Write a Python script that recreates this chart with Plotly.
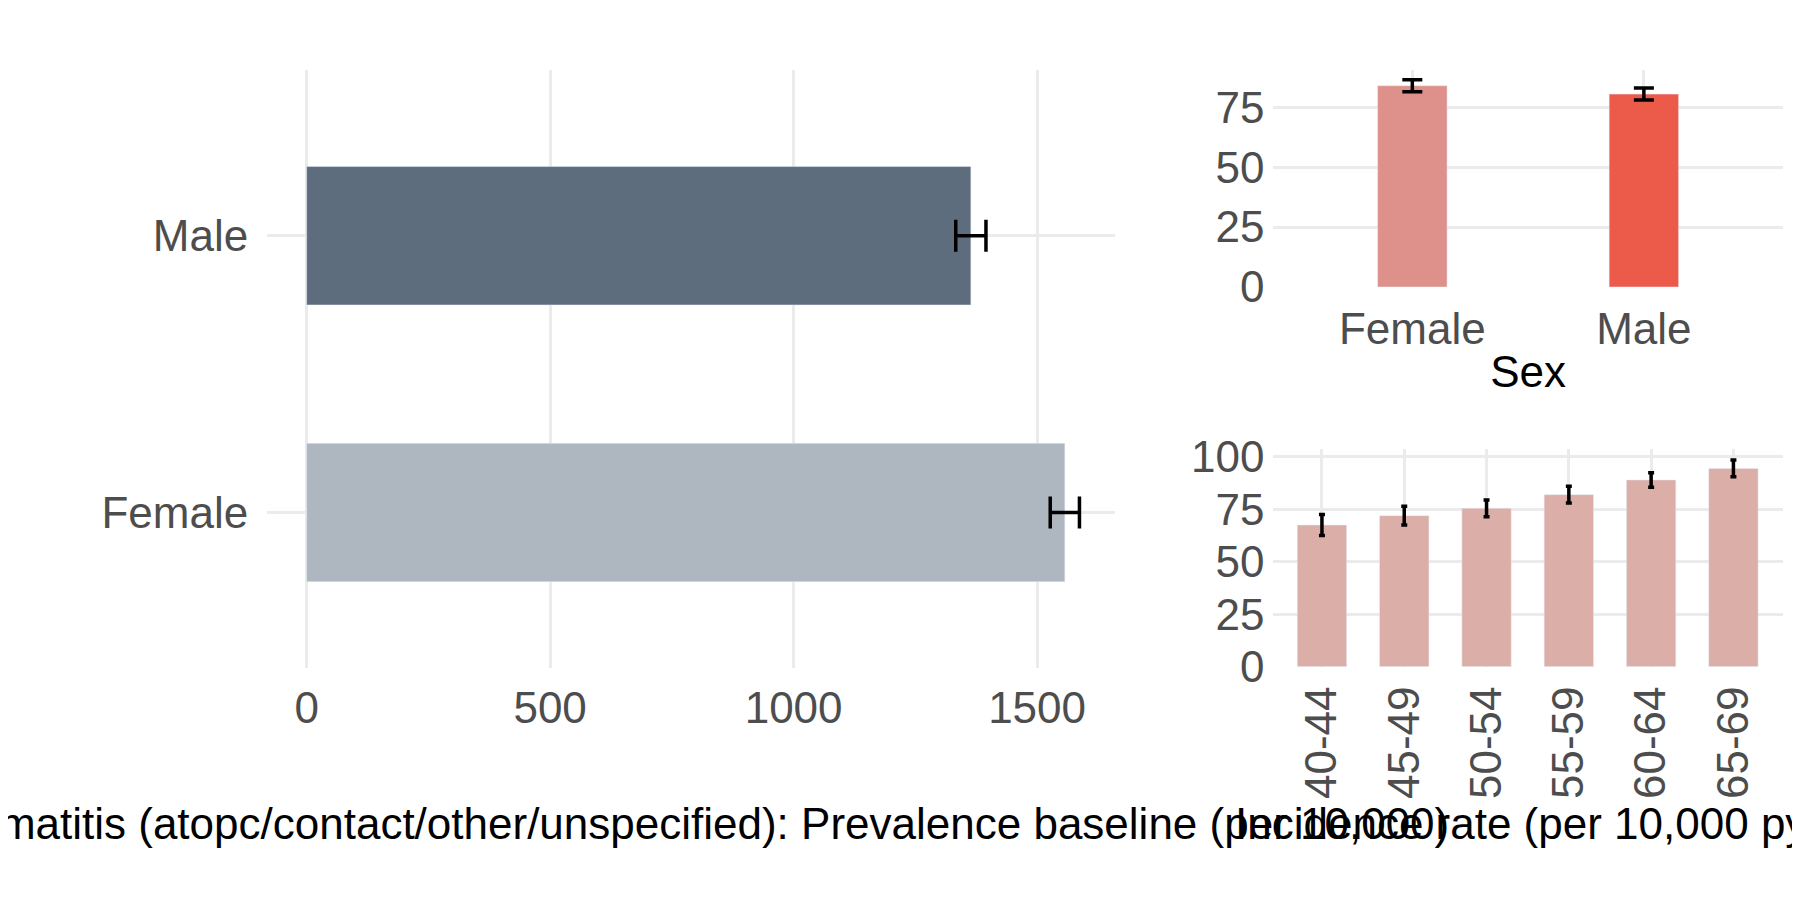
import plotly.graph_objects as go

# left panel: prevalence baseline by sex
sex = ["Female", "Male"]
prev = [1557, 1364]
prev_err = [30, 31]
prev_colors = ["#AEB6BF", "#5D6D7E"]

# top right: incidence by sex
inc_sex = [84, 80.5]
inc_sex_err = [2.5, 2.5]
inc_sex_colors = ["#DE918A", "#EC5B4A"]

# bottom right: incidence by age group
ages = ["40-44", "45-49", "50-54", "55-59", "60-64", "65-69"]
inc_age = [67.5, 72, 75.5, 82, 89, 94.5]
inc_age_err = [5, 4.5, 4, 4, 3.5, 4]

grid = "#EBEBEB"
tickfont = dict(family="Liberation Sans, Arial", size=44, color="#4D4D4D")
titlefont = dict(family="Liberation Sans, Arial", size=44, color="black")

fig = go.Figure()

fig.add_trace(go.Bar(
    y=sex, x=prev, orientation="h", width=0.5, marker_color=prev_colors,
    error_x=dict(type="data", array=prev_err, color="black", thickness=3.5, width=16),
    xaxis="x", yaxis="y",
))
fig.add_trace(go.Bar(
    x=sex, y=inc_sex, width=0.3, marker_color=inc_sex_colors,
    error_y=dict(type="data", array=inc_sex_err, color="black", thickness=3.5, width=10),
    xaxis="x2", yaxis="y2",
))
fig.add_trace(go.Bar(
    x=ages, y=inc_age, width=0.6, marker_color="#DBAEA8",
    error_y=dict(type="data", array=inc_age_err, color="black", thickness=3.5, width=3),
    xaxis="x3", yaxis="y3",
))

ax = dict(showgrid=True, gridcolor=grid, gridwidth=2.5, zeroline=False,
          showline=False, tickfont=tickfont, ticks="")

fig.update_layout(
    width=1800, height=900, showlegend=False,
    plot_bgcolor="white", paper_bgcolor="white",
    margin=dict(l=0, r=0, t=0, b=0),
    xaxis=dict(ax, domain=[0.144, 0.615], range=[-81, 1660],
               tickvals=[0, 500, 1000, 1500], anchor="y", ticklabelstandoff=10),
    yaxis=dict(ax, domain=[0.252, 0.948], range=[-0.56, 1.6],
               categoryorder="array", categoryarray=sex, anchor="x",
               ticklabelstandoff=18),
    xaxis2=dict(ax, domain=[0.703, 0.986], range=[-0.6, 1.6],
                categoryorder="array", categoryarray=sex, anchor="y2",
                ticklabelstandoff=12,
                title=dict(text="Sex", font=titlefont, standoff=4)),
    yaxis2=dict(ax, domain=[0.695, 0.948], range=[0, 90.7],
                tickvals=[0, 25, 50, 75], anchor="x2", ticklabelstandoff=8),
    xaxis3=dict(ax, domain=[0.703, 0.986], range=[-0.59, 5.6],
                tickangle=-90, anchor="y3", ticklabelstandoff=10),
    yaxis3=dict(ax, domain=[0.253, 0.506], range=[0, 103.6],
                tickvals=[0, 25, 50, 75, 100], anchor="x3", ticklabelstandoff=8),
    annotations=[
        dict(text="Dermatitis (atopc/contact/other/unspecified): Prevalence baseline (per 10,000)",
             x=0.378, y=0.07, xref="paper", yref="paper", showarrow=False,
             font=titlefont, xanchor="center", yanchor="middle"),
        dict(text="Incidence rate (per 10,000 py)",
             x=0.8445, y=0.07, xref="paper", yref="paper", showarrow=False,
             font=titlefont, xanchor="center", yanchor="middle"),
    ],
)

fig.write_html("out.html")
